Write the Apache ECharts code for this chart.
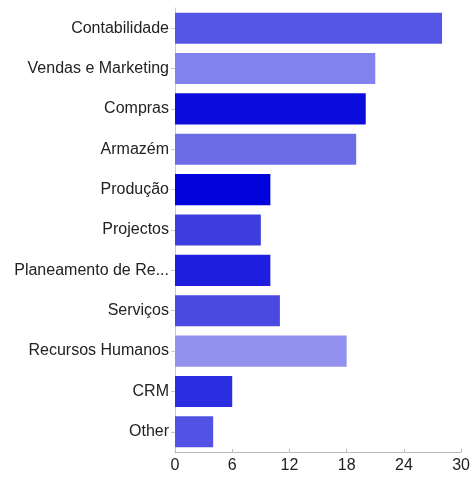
<!DOCTYPE html>
<html><head><meta charset="utf-8">
<script src="https://cdn.jsdelivr.net/npm/echarts@6/dist/echarts.min.js"></script>
<style>html,body{margin:0;padding:0;background:#fff}#c{width:473px;height:477px}</style>
</head><body><div id="c"></div>
<script>
const categories = ["Contabilidade","Vendas e Marketing","Compras","Armazém","Produção","Projectos","Planeamento de Re...","Serviços","Recursos Humanos","CRM","Other"];
const values = [28,21,20,19,10,9,10,11,18,6,4];
const colors = ["#5656e6","#8282ee","#0c0cdc","#6c6ce8","#0202dc","#3e3ee0","#1e1ede","#4a4ae2","#9292ee","#2c2ce0","#5252e4"];
const xTicks = [0,6,12,18,24,30];

const chart = echarts.init(document.getElementById('c'));
chart.setOption({
  animation:false,
  grid:{left:175,right:10,top:8,bottom:25,containLabel:false},
  xAxis:{type:'value',min:xTicks[0],max:xTicks[xTicks.length-1],interval:6,
    axisLine:{show:true,lineStyle:{color:'#bbb',width:1}},
    axisTick:{show:true,inside:true,length:3,lineStyle:{color:'#bbb'}},
    splitLine:{show:false},
    axisLabel:{color:'#222',fontSize:16,fontFamily:'Liberation Sans, Arial, sans-serif',margin:6}},
  yAxis:{type:'category',data:categories,inverse:true,
    axisLine:{show:true,lineStyle:{color:'#ccc',width:1}},
    axisTick:{show:true,length:4,alignWithLabel:true,lineStyle:{color:'#ccc'}},
    axisLabel:{color:'#222',fontSize:16,fontFamily:'Liberation Sans, Arial, sans-serif',margin:6}},
  series:[{type:'bar',barCategoryGap:'23%',
    data:values.map((v,i)=>({value:v,itemStyle:{color:colors[i]}}))}]
});
</script></body></html>
